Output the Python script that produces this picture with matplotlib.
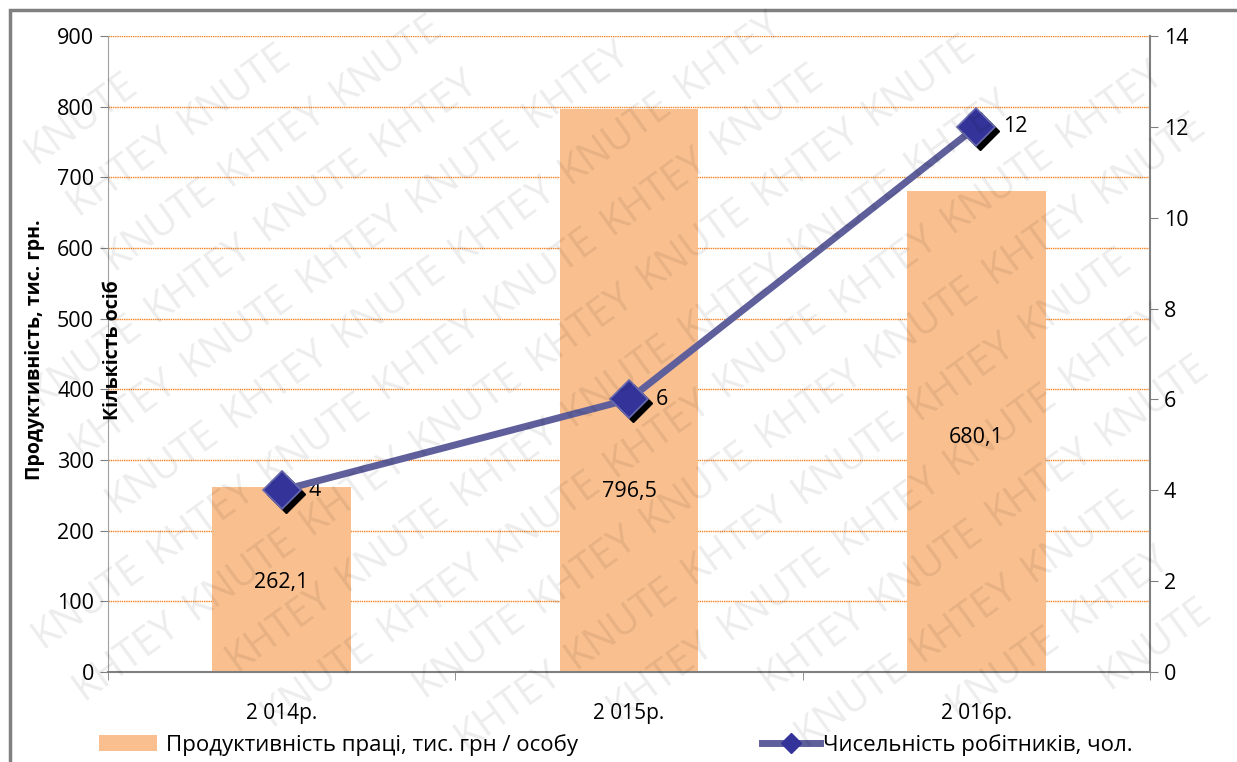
import math

import matplotlib

matplotlib.use("Agg")
import matplotlib.pyplot as plt
from matplotlib.patches import Rectangle
from matplotlib.lines import Line2D
from matplotlib.patches import Patch
from matplotlib import transforms

plt.rcParams["font.family"] = ["Open Sans", "DejaVu Sans"]

years = ["2 014р.", "2 015р.", "2 016р."]
productivity = [262.1, 796.5, 680.1]
productivity_labels = ["262,1", "796,5", "680,1"]
label_heights = [127, 255, 332]
workers = [4, 6, 12]
watermark_words = ["KNUTE", "KHTEY"]

bar_color = "#f9bf8f"
line_color = "#5f5f9c"
marker_color = "#333399"

W, H = 1237, 762
fig = plt.figure(figsize=(W / 100, H / 100), dpi=100, facecolor="white")
fig.patches.append(
    Rectangle((10 / W, -0.1), 1.2, 1 - 10 / H + 0.1, transform=fig.transFigure,
              fill=False, edgecolor="#808080", linewidth=2.5, zorder=0)
)

ax = fig.add_axes([108 / W, 1 - 672 / H, (1150 - 108) / W, (672 - 36) / H])
ax.set_facecolor("none")
x = list(range(len(years)))
ax.bar(x, productivity, width=0.4, color=bar_color, zorder=2)
ax.set_xlim(-0.5, 2.5)
ax.set_ylim(0, 900)
ax.set_yticks(range(0, 901, 100))
ax.grid(axis="y", color="#f58220", linestyle=(0, (1, 0.6)), linewidth=1.0, zorder=1)
ax.set_axisbelow(True)
ax.set_xticks(x)
ax.set_xticklabels(years, fontsize=15)
ax.tick_params(axis="x", length=0, pad=22)
ax.set_xticks([-0.5, 0.5, 1.5, 2.5], minor=True)
ax.tick_params(axis="x", which="minor", length=6, color="#808080", direction="out")
ax.tick_params(axis="y", labelsize=15.5, length=6, color="#808080", pad=4)
for side in ["top", "right"]:
    ax.spines[side].set_visible(False)
ax.spines["left"].set_color("#a0a0a0")
ax.spines["left"].set_linestyle((0, (1, 1)))
ax.spines["bottom"].set_color("#808080")
ax.spines["bottom"].set_linewidth(1.5)

for xi, txt, h in zip(x, productivity_labels, label_heights):
    ax.text(xi, h, txt, ha="center", va="center", fontsize=15.5, zorder=5)

ax2 = ax.twinx()
ax2.set_ylim(0, 14)
ax2.set_yticks(range(0, 15, 2))
ax2.tick_params(axis="y", labelsize=15.5, length=6, color="#808080", pad=4)
for side in ["top", "left", "bottom"]:
    ax2.spines[side].set_visible(False)
ax2.spines["right"].set_color("#808080")
ax2.spines["right"].set_linewidth(1.5)

shadow = transforms.offset_copy(ax2.transData, fig=fig, x=4, y=-4, units="dots")
ax2.plot(x, workers, linestyle="none", marker="D", markersize=19, color="black",
         transform=shadow, zorder=3)
ax2.plot(x, workers, color=line_color, linewidth=5, marker="D", markersize=19,
         markerfacecolor=marker_color, markeredgecolor="#6a6ab0", markeredgewidth=1.2,
         zorder=4)
for xi, w in zip(x, workers):
    ax2.annotate(str(w), (xi, w), xytext=(19, 0), textcoords="offset points",
                 ha="left", va="center", fontsize=15.5)

fig.text(35 / W, 1 - 350 / H, "Продуктивність, тис. грн.", rotation=90,
         ha="center", va="center", fontsize=14, fontweight="bold")
fig.text(113 / W, 1 - 350 / H, "Кількість осіб", rotation=90,
         ha="center", va="center", fontsize=14, fontweight="bold")

handles = [
    Patch(facecolor=bar_color, edgecolor="none"),
    Line2D([0], [0], color=line_color, linewidth=5, marker="D", markersize=10,
           markerfacecolor=marker_color, markeredgecolor=marker_color),
]
fig.legend(handles[:1], ["Продуктивність праці, тис. грн / особу"],
           loc="center left", bbox_to_anchor=(88 / W, 1 - 745 / H),
           frameon=False, fontsize=16, handlelength=2.6, handleheight=0.75,
           borderpad=0, handletextpad=0.4)
fig.legend(handles[1:], ["Чисельність робітників, чол."],
           loc="center left", bbox_to_anchor=(751 / W, 1 - 745 / H),
           frameon=False, fontsize=16, handlelength=2.6,
           borderpad=0, handletextpad=0.15)

# watermark, word by word, keeping only words that fit in the picture
angle = math.radians(36)
ux, uy = math.cos(angle), math.sin(angle)
px, py = -math.sin(angle), math.cos(angle)
step, gap = 140, 66
renderer = fig.canvas.get_renderer()
for row in range(-16, 17):
    for col in range(-12, 13):
        cx = W / 2 + col * step * ux + row * gap * px
        cy = H / 2 + col * step * uy + row * gap * py
        if not (-60 < cx < W + 60 and -60 < cy < H + 60):
            continue
        word = watermark_words[(col + row) % 2]
        t = fig.text(cx / W, cy / H, word, rotation=36, rotation_mode="anchor",
                     ha="center", va="center", fontsize=29, color="#000000",
                     alpha=0.075, zorder=10)
        bb = t.get_window_extent(renderer)
        if bb.x0 < 0 or bb.y0 < 0 or bb.x1 > W or bb.y1 > H:
            t.remove()

fig.savefig("out.png", dpi=100)
